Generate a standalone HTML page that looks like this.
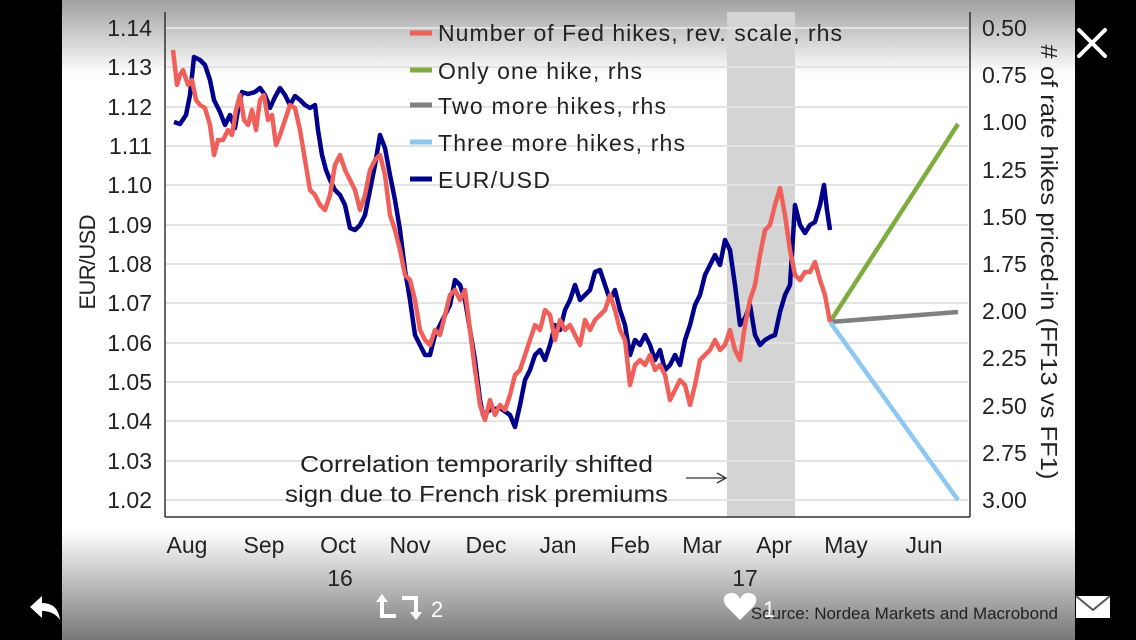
<!DOCTYPE html>
<html><head><meta charset="utf-8"><style>
html,body{margin:0;padding:0;background:#000;width:1136px;height:640px;overflow:hidden}
svg{display:block}
text{font-family:"Liberation Sans",sans-serif}
</style></head><body>
<svg width="1136" height="640" viewBox="0 0 1136 640">
<defs>
<linearGradient id="gt" x1="0" y1="0" x2="0" y2="1"><stop offset="0" stop-color="#a0a0a0"/><stop offset="1" stop-color="#fff"/></linearGradient>
<linearGradient id="gb" x1="0" y1="0" x2="0" y2="1"><stop offset="0" stop-color="#fff"/><stop offset="1" stop-color="#777"/></linearGradient>
</defs>
<rect x="0" y="0" width="1136" height="640" fill="#000"/>
<rect x="62" y="0" width="1013" height="640" fill="#fff"/>
<rect x="62" y="0" width="1013" height="75" fill="url(#gt)"/>
<rect x="62" y="530" width="1013" height="110" fill="url(#gb)"/>
<rect x="727" y="12" width="68" height="505" fill="#d4d4d4"/>
<g stroke="#e3e3e3" stroke-width="2">
<line x1="166" y1="28" x2="968" y2="28"/><line x1="166" y1="67" x2="968" y2="67"/><line x1="166" y1="107" x2="968" y2="107"/><line x1="166" y1="146" x2="968" y2="146"/><line x1="166" y1="185" x2="968" y2="185"/><line x1="166" y1="225" x2="968" y2="225"/><line x1="166" y1="264" x2="968" y2="264"/><line x1="166" y1="303" x2="968" y2="303"/><line x1="166" y1="343" x2="968" y2="343"/><line x1="166" y1="382" x2="968" y2="382"/><line x1="166" y1="421" x2="968" y2="421"/><line x1="166" y1="461" x2="968" y2="461"/><line x1="166" y1="500" x2="968" y2="500"/>
</g>
<g stroke="#333" stroke-width="1.5" fill="none">
<line x1="165" y1="12" x2="165" y2="517"/><line x1="970" y1="12" x2="970" y2="517"/><line x1="165" y1="517" x2="970" y2="517"/>
</g>
<g font-size="23" fill="#222" text-anchor="end">
<text x="152" y="36">1.14</text><text x="152" y="75">1.13</text><text x="152" y="115">1.12</text><text x="152" y="154">1.11</text><text x="152" y="193">1.10</text><text x="152" y="233">1.09</text><text x="152" y="272">1.08</text><text x="152" y="311">1.07</text><text x="152" y="351">1.06</text><text x="152" y="390">1.05</text><text x="152" y="429">1.04</text><text x="152" y="469">1.03</text><text x="152" y="508">1.02</text>
</g>
<g font-size="23" fill="#222" text-anchor="start">
<text x="982" y="36">0.50</text><text x="982" y="83">0.75</text><text x="982" y="130">1.00</text><text x="982" y="178">1.25</text><text x="982" y="225">1.50</text><text x="982" y="272">1.75</text><text x="982" y="319">2.00</text><text x="982" y="366">2.25</text><text x="982" y="414">2.50</text><text x="982" y="461">2.75</text><text x="982" y="508">3.00</text>
</g>
<text font-size="22" fill="#222" transform="translate(95,262) rotate(-90)" text-anchor="middle" textLength="95">EUR/USD</text>
<text font-size="23" fill="#222" transform="translate(1041,262) rotate(90)" text-anchor="middle" textLength="435" lengthAdjust="spacingAndGlyphs"># of rate hikes priced-in (FF13 vs FF1)</text>
<g font-size="23" fill="#222" text-anchor="middle">
<text x="187" y="553">Aug</text><text x="264" y="553">Sep</text><text x="338" y="553">Oct</text><text x="410" y="553">Nov</text><text x="486" y="553">Dec</text><text x="558" y="553">Jan</text><text x="630" y="553">Feb</text><text x="702" y="553">Mar</text><text x="774" y="553">Apr</text><text x="846" y="553">May</text><text x="924" y="553">Jun</text>
<text x="340" y="586">16</text><text x="745" y="586">17</text>
</g>
<g font-size="23" fill="#222">
<text x="300" y="472" textLength="353" lengthAdjust="spacingAndGlyphs">Correlation temporarily shifted</text>
<text x="285" y="502" textLength="383" lengthAdjust="spacingAndGlyphs">sign due to French risk premiums</text>
</g>
<line x1="686" y1="478" x2="725" y2="478" stroke="#333" stroke-width="1.3"/>
<polyline points="717,473 726,478 717,483" fill="none" stroke="#333" stroke-width="1.3"/>
<g stroke-width="4.5" fill="none" stroke-linejoin="round">
<line x1="830" y1="322" x2="958" y2="124" stroke="#7fac3f"/>
<line x1="830" y1="322" x2="958" y2="312" stroke="#808080"/>
<line x1="830" y1="322" x2="958" y2="500" stroke="#8ec8f2"/>
<polyline stroke="#00008b" points="174,122 180,124 186,115 190,95 194,57 200,60 205,65 210,80 214,100 220,112 225,125 230,115 235,128 238,110 242,92 248,94 255,92 260,88 265,95 270,108 275,97 280,88 285,95 290,105 295,96 300,100 305,105 310,108 315,105 318,130 322,155 326,170 330,180 335,190 340,195 345,205 350,228 355,230 360,225 365,215 370,190 375,165 380,135 385,148 390,175 395,200 400,230 405,270 410,300 415,335 420,345 425,355 430,355 435,335 440,325 445,315 450,305 455,280 460,285 465,300 470,330 475,360 480,400 483,415 490,410 500,408 510,415 515,427 520,405 525,380 530,370 535,355 540,350 545,360 550,345 555,325 560,330 565,310 570,300 575,285 580,300 585,295 590,290 595,272 600,270 605,285 610,300 615,290 620,310 625,325 630,355 635,340 640,345 645,335 650,345 655,360 660,350 665,370 670,365 675,355 680,365 685,340 690,325 695,305 700,295 705,275 710,265 715,255 720,265 725,240 730,250 735,285 740,325 745,318 750,305 755,335 760,345 765,340 770,337 775,335 780,312 785,295 790,285 795,205 800,225 805,233 810,225 815,222 820,205 824,185 827,210 830,230"/>
<polyline stroke="#f0605a" points="173,50 177,85 180,75 183,70 188,85 192,80 196,100 200,105 205,108 210,125 214,155 218,140 223,140 228,130 232,135 236,110 240,95 244,120 248,125 252,110 256,130 260,100 264,95 268,120 272,115 276,145 280,135 285,120 290,105 295,108 300,130 305,160 310,190 315,195 320,205 325,210 330,195 335,165 340,155 345,170 350,180 355,190 360,210 365,195 370,170 375,160 380,155 385,175 390,215 395,230 400,250 405,275 410,280 415,300 420,330 425,340 430,345 435,330 440,335 445,315 450,295 455,290 460,300 465,290 470,330 475,370 480,405 485,420 490,400 495,415 500,405 505,410 510,395 515,375 520,370 525,355 530,340 535,325 540,330 545,310 550,315 555,340 560,320 565,330 570,325 575,335 580,345 585,320 590,330 595,320 600,315 605,310 610,295 615,310 620,330 625,340 630,385 635,365 640,360 645,365 650,355 655,370 660,365 665,375 670,400 675,390 680,380 685,385 690,405 695,385 700,360 705,355 710,350 715,340 720,350 725,345 730,330 735,350 740,360 745,325 750,300 755,285 760,255 765,230 770,225 775,205 780,188 785,215 790,250 795,275 800,280 805,272 810,272 815,262 820,280 825,295 830,322"/>
</g>
<g stroke-width="5">
<line x1="410" y1="33" x2="432" y2="33" stroke="#f0605a"/>
<line x1="410" y1="70" x2="432" y2="70" stroke="#7fac3f"/>
<line x1="410" y1="105" x2="432" y2="105" stroke="#808080"/>
<line x1="410" y1="142" x2="432" y2="142" stroke="#8ec8f2"/>
<line x1="410" y1="179" x2="432" y2="179" stroke="#00008b"/>
</g>
<g font-size="23" fill="#222" lengthAdjust="spacingAndGlyphs">
<text x="438" y="41" textLength="404">Number of Fed hikes, rev. scale, rhs</text>
<text x="438" y="79" textLength="204">Only one hike, rhs</text>
<text x="438" y="114" textLength="228">Two more hikes, rhs</text>
<text x="438" y="151" textLength="247">Three more hikes, rhs</text>
<text x="438" y="188" textLength="112">EUR/USD</text>
</g>
<text x="1058" y="619" font-size="17" fill="#222" text-anchor="end">Source: Nordea Markets and Macrobond</text>
<g stroke="#fff" stroke-width="4" stroke-linecap="round"><line x1="1079" y1="30" x2="1105" y2="56"/><line x1="1105" y1="30" x2="1079" y2="56"/></g>
<path d="M30 607 L42 596 L42 603 Q58 603 60 620 Q54 611 42 611 L42 618 Z" fill="#fff"/>
<g fill="none" stroke="#fff" stroke-width="4"><path d="M382 598 V616 H396"/><path d="M402 598 H416 V616"/></g>
<path d="M376 602 L382 594 L388 602 Z M410 612 L416 620 L422 612 Z" fill="#fff"/>
<text x="431" y="617" font-size="22" fill="#fff">2</text>
<path d="M740 620 L726 606 Q720 596 730 593 Q737 592 740 599 Q743 592 750 593 Q760 596 754 606 Z" fill="#fff"/>
<text x="763" y="617" font-size="22" fill="#fff">1</text>
<rect x="1076" y="596" width="34" height="22" fill="#fff"/>
<polyline points="1076,596 1093,610 1110,596" fill="none" stroke="#555" stroke-width="2"/>
</svg>
</body></html>
